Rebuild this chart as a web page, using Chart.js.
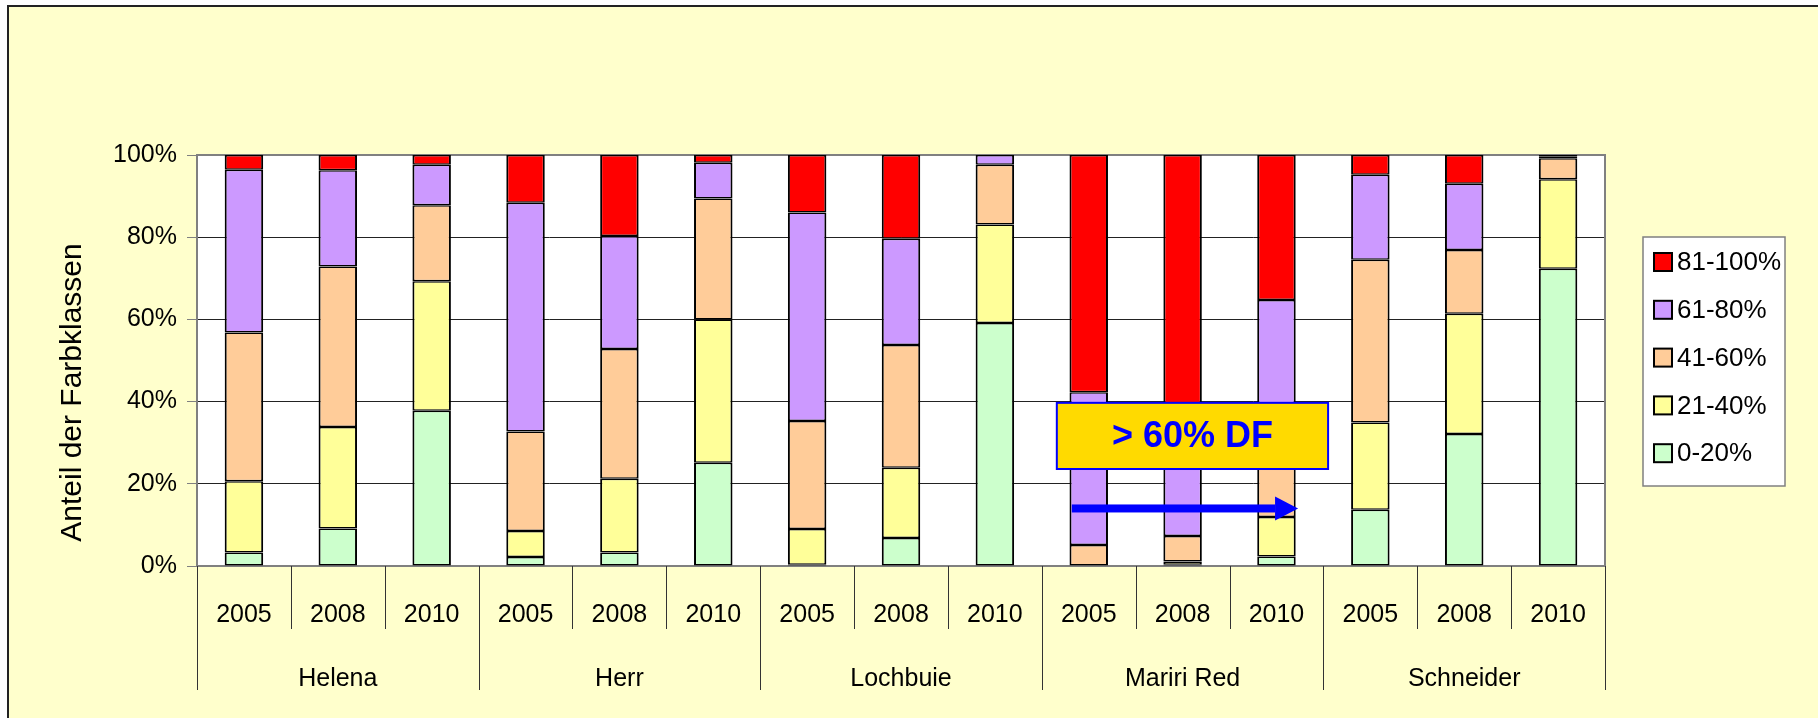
<!DOCTYPE html>
<html>
<head>
<meta charset="utf-8">
<title>Anteil der Farbklassen</title>
<script src="https://cdn.jsdelivr.net/npm/chart.js@4.4.1/dist/chart.umd.min.js"></script>
<style>
  html, body { margin: 0; padding: 0; background: #fff; }
  #chart { display: block; }
</style>
</head>
<body>
<canvas id="chart" width="1818" height="718"></canvas>
<script>
const groups = ['Helena', 'Herr', 'Lochbuie', 'Mariri Red', 'Schneider'];
const years = ['2005', '2008', '2010'];
const yTicks = [0, 20, 40, 60, 80, 100];

// Anteile je Farbklasse (in %), Reihenfolge: Gruppe x Jahr
const klasse0_20 = [3.3, 9.1, 37.8, 2.2, 3.3, 25.1, 0.3, 6.8, 59.1, 0, 0.3, 2.3, 13.7, 32.1, 72.3];
const klasse21_40 = [17.3, 24.7, 31.5, 6.3, 17.9, 34.9, 8.7, 17.1, 24.0, 0, 0.8, 9.6, 21.2, 29.3, 21.8];
const klasse41_60 = [36.2, 39.1, 18.5, 24.2, 31.6, 29.4, 26.3, 29.9, 14.5, 5.1, 6.2, 18.1, 39.6, 15.5, 5.1];
const klasse61_80 = [39.6, 23.4, 9.8, 55.7, 27.5, 8.7, 50.7, 25.8, 2.4, 37.2, 27.7, 34.7, 20.7, 16.1, 0.5];
const klasse81_100 = [3.6, 3.7, 2.4, 11.6, 19.7, 1.9, 14.0, 20.4, 0, 57.7, 65.0, 35.3, 4.8, 7.0, 0.3];

const seriesLabels = ['0-20%', '21-40%', '41-60%', '61-80%', '81-100%'];
const seriesColors = ['#CCFFCC', '#FFFF99', '#FFCC99', '#CC99FF', '#FF0000'];

const FONT = '"Liberation Sans", Arial, sans-serif';

const yearLabels = [];
groups.forEach(() => years.forEach(y => yearLabels.push(y)));

const seriesData = [klasse0_20, klasse21_40, klasse41_60, klasse61_80, klasse81_100];
const datasets = seriesData.map((data, i) => ({
    label: seriesLabels[i],
    data: data,
    backgroundColor: seriesColors[i],
    borderColor: '#000',
    borderWidth: { left: 2, right: 2, top: 1.5, bottom: 1.5 },
    borderSkipped: false,
    barPercentage: 0.41,
    categoryPercentage: 1
}));

// Hintergrund, Rahmen und weisse Zeichenflaeche
const backgroundPlugin = {
    id: 'background',
    beforeDraw(chart) {
        const { ctx, width, height, chartArea } = chart;
        ctx.save();
        ctx.fillStyle = '#fff';
        ctx.fillRect(0, 0, width, height);
        ctx.fillStyle = '#FFFFCC';
        ctx.fillRect(8, 6, width, height);
        ctx.strokeStyle = '#222';
        ctx.lineWidth = 2;
        ctx.beginPath();
        ctx.moveTo(8, height);
        ctx.lineTo(8, 6);
        ctx.lineTo(width, 6);
        ctx.stroke();
        ctx.fillStyle = '#fff';
        ctx.fillRect(chartArea.left, chartArea.top, chartArea.right - chartArea.left, chartArea.bottom - chartArea.top);
        ctx.restore();
    },
    beforeDatasetsDraw(chart) {
        const { ctx, chartArea } = chart;
        ctx.save();
        ctx.strokeStyle = '#808080';
        ctx.lineWidth = 2;
        ctx.strokeRect(chartArea.left, chartArea.top, chartArea.right - chartArea.left, chartArea.bottom - chartArea.top);
        ctx.restore();
    }
};

// Trennlinien der zweistufigen Kategorieachse
const separatorPlugin = {
    id: 'separators',
    afterDraw(chart) {
        const { ctx, chartArea } = chart;
        const x = chart.scales.x;
        ctx.save();
        ctx.strokeStyle = '#333';
        ctx.lineWidth = 1;
        for (let i = 0; i <= yearLabels.length; i++) {
            const px = Math.round(x.getPixelForValue(i - 0.5)) + 0.5;
            const len = i % years.length === 0 ? 124 : 63;
            ctx.beginPath();
            ctx.moveTo(px, chartArea.bottom);
            ctx.lineTo(px, chartArea.bottom + len);
            ctx.stroke();
        }
        ctx.restore();
    }
};

// Kasten "> 60% DF" mit Pfeil
const annotationPlugin = {
    id: 'dfNote',
    afterDatasetsDraw(chart) {
        const { ctx } = chart;
        const x = chart.scales.x, y = chart.scales.y;
        const left = x.getPixelForValue(8.66), right = x.getPixelForValue(11.55);
        const top = y.getPixelForValue(39.7), bottom = y.getPixelForValue(23.6);
        ctx.save();
        ctx.fillStyle = '#FFDA00';
        ctx.fillRect(left, top, right - left, bottom - top);
        ctx.strokeStyle = '#0000FF';
        ctx.lineWidth = 2;
        ctx.strokeRect(left, top, right - left, bottom - top);
        ctx.fillStyle = '#0000FF';
        ctx.font = 'bold 36px ' + FONT;
        ctx.textAlign = 'center';
        ctx.textBaseline = 'middle';
        ctx.fillText('> 60% DF', (left + right) / 2, (top + bottom) / 2 + 1);

        const ay = y.getPixelForValue(14);
        const ax0 = x.getPixelForValue(8.82), ax1 = x.getPixelForValue(11.23);
        const headLen = 23;
        ctx.fillRect(ax0, ay - 4, ax1 - headLen - ax0, 8);
        ctx.beginPath();
        ctx.moveTo(ax1, ay);
        ctx.lineTo(ax1 - headLen, ay - 12);
        ctx.lineTo(ax1 - headLen, ay + 12);
        ctx.closePath();
        ctx.fill();
        ctx.restore();
    }
};

// Legende mit Rahmen und Achsentitel
const legendPlugin = {
    id: 'boxLegend',
    afterDraw(chart) {
        const { ctx, chartArea } = chart;
        const boxLeft = chartArea.right + 38;
        const boxTop = chartArea.top + 82;
        const boxW = 142, boxH = 249;
        ctx.save();
        ctx.fillStyle = '#fff';
        ctx.fillRect(boxLeft, boxTop, boxW, boxH);
        ctx.strokeStyle = '#808080';
        ctx.lineWidth = 1.5;
        ctx.strokeRect(boxLeft, boxTop, boxW, boxH);
        ctx.font = '26px ' + FONT;
        ctx.textBaseline = 'middle';
        ctx.textAlign = 'left';
        const items = chart.data.datasets.slice().reverse();
        items.forEach((ds, i) => {
            const cy = boxTop + 25 + i * 47.8;
            ctx.fillStyle = ds.backgroundColor;
            ctx.fillRect(boxLeft + 11, cy - 9, 18, 18);
            ctx.strokeStyle = '#000';
            ctx.lineWidth = 2;
            ctx.strokeRect(boxLeft + 11, cy - 9, 18, 18);
            ctx.fillStyle = '#000';
            ctx.fillText(ds.label, boxLeft + 34, cy + 1);
        });

        ctx.translate(chartArea.left - 124, (chartArea.top + chartArea.bottom) / 2 + 32);
        ctx.rotate(-Math.PI / 2);
        ctx.textAlign = 'center';
        ctx.font = '30px ' + FONT;
        ctx.fillText('Anteil der Farbklassen', 0, 0);
        ctx.restore();
    }
};

new Chart(document.getElementById('chart'), {
    type: 'bar',
    data: { labels: yearLabels, datasets: datasets },
    options: {
        responsive: false,
        animation: false,
        layout: { padding: { left: 0, right: 213, top: 155, bottom: 27 } },
        plugins: {
            legend: { display: false },
            tooltip: { enabled: false }
        },
        scales: {
            x: {
                stacked: true,
                offset: true,
                weight: 0,
                grid: { display: false },
                border: { display: true, color: '#808080', width: 2 },
                ticks: {
                    autoSkip: false,
                    maxRotation: 0,
                    padding: 26,
                    color: '#000',
                    font: { family: FONT, size: 25 }
                },
                afterFit(scale) { scale.height = 64; }
            },
            x2: {
                type: 'category',
                labels: groups,
                position: 'bottom',
                offset: true,
                weight: 1,
                grid: { display: false },
                border: { display: false },
                ticks: {
                    autoSkip: false,
                    maxRotation: 0,
                    padding: 26,
                    color: '#000',
                    font: { family: FONT, size: 25 }
                },
                afterFit(scale) { scale.height = 61; }
            },
            y: {
                stacked: true,
                min: 0,
                max: 100,
                afterBuildTicks(scale) { scale.ticks = yTicks.map(v => ({ value: v })); },
                grid: { color: '#222', lineWidth: 1, tickLength: 10, tickColor: '#808080' },
                border: { display: true, color: '#808080', width: 2 },
                ticks: {
                    padding: 10,
                    color: '#000',
                    font: { family: FONT, size: 25 },
                    callback: v => v + '%'
                },
                afterFit(scale) { scale.width = 197; }
            }
        }
    },
    plugins: [backgroundPlugin, separatorPlugin, annotationPlugin, legendPlugin]
});
</script>
</body>
</html>
